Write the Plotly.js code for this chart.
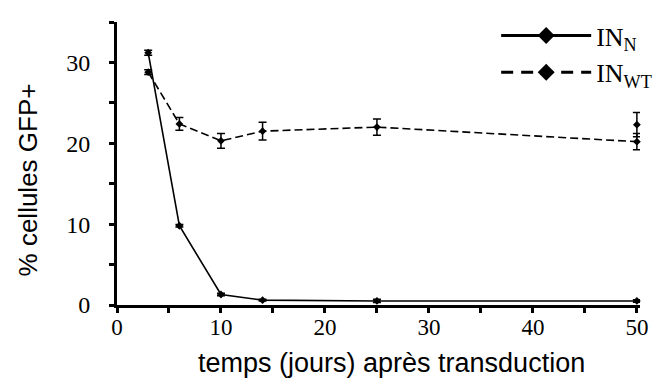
<!DOCTYPE html>
<html>
<head>
<meta charset="utf-8">
<script src="https://cdn.plot.ly/plotly-3.0.1.min.js"></script>
<style>
  html, body { margin: 0; padding: 0; background: #fff; }
  #chart { width: 669px; height: 385px; }
</style>
</head>
<body>
<div id="chart"></div>
<script>
// Days after transduction
const days = [3, 6, 10, 14, 25, 50];

// IN_N : % GFP+ cells and error
const inN = [31.2, 9.8, 1.3, 0.6, 0.5, 0.5];
const inNErr = [0.3, 0.15, 0.15, 0.1, 0.2, 0.15];

// IN_WT : % GFP+ cells and error (two readings at day 50)
const wtDays = [3, 6, 10, 14, 25, 50];
const inWT = [28.8, 22.4, 20.3, 21.5, 22.0, 20.2];
const inWTErr = [0.3, 0.8, 0.9, 1.1, 1.0, 1.0];
const wtExtraDays = [50];
const wtExtra = [22.3];
const wtExtraErr = [1.5];

const legendNames = ['IN<sub>N</sub>', 'IN<sub>WT</sub>'];

const serif = 'Liberation Serif, Times New Roman, serif';
const sans = 'Liberation Sans, Arial, sans-serif';

const errStyle = { type: 'data', visible: true, color: '#000', thickness: 1.5, width: 4 };

const traces = [
  {
    x: days, y: inN, type: 'scatter', mode: 'lines+markers',
    line: { color: '#000', width: 1.6 },
    marker: { symbol: 'diamond', size: 6, color: '#000' },
    error_y: Object.assign({ array: inNErr }, errStyle),
    showlegend: false, cliponaxis: false
  },
  {
    x: wtDays, y: inWT, type: 'scatter', mode: 'lines+markers',
    line: { color: '#000', width: 1.6, dash: '8px,4px' },
    marker: { symbol: 'diamond', size: 6, color: '#000' },
    error_y: Object.assign({ array: inWTErr }, errStyle),
    showlegend: false, cliponaxis: false
  },
  {
    x: wtExtraDays, y: wtExtra, type: 'scatter', mode: 'markers',
    marker: { symbol: 'diamond', size: 6, color: '#000' },
    error_y: Object.assign({ array: wtExtraErr }, errStyle),
    showlegend: false, cliponaxis: false
  },
  // legend entries
  {
    x: [null], y: [null], type: 'scatter', mode: 'lines+markers', name: legendNames[0],
    line: { color: '#000', width: 3 },
    marker: { symbol: 'diamond', size: 13, color: '#000' }
  },
  {
    x: [null], y: [null], type: 'scatter', mode: 'lines+markers', name: legendNames[1],
    line: { color: '#000', width: 3, dash: '12px,8px' },
    marker: { symbol: 'diamond', size: 13, color: '#000' }
  }
];

const layout = {
  width: 669, height: 385,
  margin: { l: 117, r: 17, t: 12, b: 80 },
  paper_bgcolor: '#fff', plot_bgcolor: '#fff',
  showlegend: true,
  legend: {
    x: 0.725, y: 1.035, xanchor: 'left', yanchor: 'top',
    bgcolor: 'rgba(0,0,0,0)',
    font: { family: serif, size: 26, color: '#000' },
    itemwidth: 90, tracegroupgap: 0
  },
  xaxis: {
    range: [0, 50.3], showgrid: false, zeroline: false,
    showline: true, linecolor: '#000', linewidth: 3,
    ticks: 'outside', ticklen: 5, tickwidth: 3, tickcolor: '#000',
    dtick: 10, tick0: 0,
    minor: { dtick: 5, ticks: 'outside', ticklen: 5, tickwidth: 3, tickcolor: '#000' },
    tickfont: { family: serif, size: 23, color: '#000' },
    ticklabelstandoff: -6
  },
  yaxis: {
    range: [0, 35], showgrid: false, zeroline: false,
    showline: true, linecolor: '#000', linewidth: 3,
    ticks: 'outside', ticklen: 5, tickwidth: 3, tickcolor: '#000',
    dtick: 10, tick0: 0,
    minor: { dtick: 5, ticks: 'outside', ticklen: 5, tickwidth: 3, tickcolor: '#000' },
    tickfont: { family: serif, size: 24, color: '#000' },
    ticklabelstandoff: 14
  },
  annotations: [
    {
      text: 'temps (jours) après transduction', xref: 'paper', yref: 'paper',
      x: (398 - 117) / 535, y: -(365 - 305) / 293, xanchor: 'center', yanchor: 'middle',
      showarrow: false, font: { family: sans, size: 27, color: '#000' }
    },
    {
      text: '% cellules GFP+', xref: 'paper', yref: 'paper',
      x: -(117 - 26) / 535, y: (305 - 176) / 293, xanchor: 'center', yanchor: 'middle',
      textangle: -90, showarrow: false, font: { family: sans, size: 26, color: '#000' }
    }
  ]
};

Plotly.newPlot('chart', traces, layout, { displayModeBar: false, staticPlot: true });
</script>
</body>
</html>
